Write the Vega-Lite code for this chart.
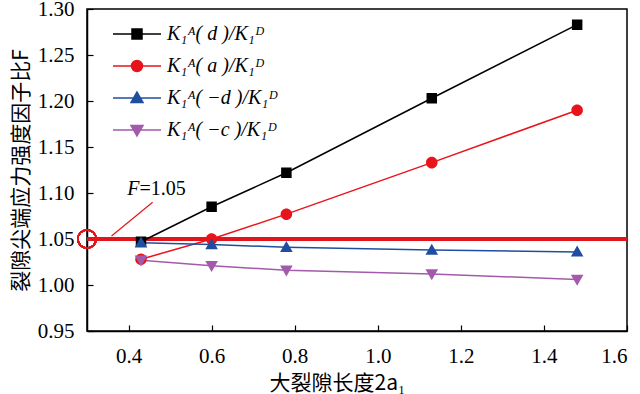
{
  "$schema": "https://vega.github.io/schema/vega-lite/v6.json",
  "autosize": "none",
  "width": 540,
  "height": 322,
  "padding": {"left": 87, "top": 9, "right": 13, "bottom": 63},
  "background": "white",
  "config": {
    "view": {"stroke": "black", "strokeWidth": 1.5},
    "axis": {
      "grid": false,
      "domainColor": "black",
      "domainWidth": 1.5,
      "tickColor": "black",
      "tickWidth": 1.2,
      "tickSize": -6,
      "labelFont": "Liberation Serif",
      "labelFontSize": 21,
      "labelColor": "black",
      "titleColor": "black",
      "titleFont": "Noto Sans CJK SC",
      "titleFontSize": 21,
      "titleFontWeight": "normal"
    },
    "legend": {
      "orient": "none", "legendX": 40, "legendY": 15, "title": null, "padding": 0,
      "labelFont": "Liberation Serif", "labelFontSize": 20, "labelFontStyle": "italic", "labelColor": "black",
      "symbolSize": 100, "labelOffset": 20, "rowPadding": 12, "symbolStrokeWidth": 1.5
    }
  },
  "data": {
    "values": [
      {"series": "d", "x": 0.43, "y": 1.047},
      {"series": "d", "x": 0.6, "y": 1.085},
      {"series": "d", "x": 0.78, "y": 1.122},
      {"series": "d", "x": 1.13, "y": 1.203},
      {"series": "d", "x": 1.48, "y": 1.283},
      {"series": "a", "x": 0.43, "y": 1.028},
      {"series": "a", "x": 0.6, "y": 1.050},
      {"series": "a", "x": 0.78, "y": 1.077},
      {"series": "a", "x": 1.13, "y": 1.133},
      {"series": "a", "x": 1.48, "y": 1.190},
      {"series": "-d", "x": 0.43, "y": 1.046},
      {"series": "-d", "x": 0.6, "y": 1.044},
      {"series": "-d", "x": 0.78, "y": 1.041},
      {"series": "-d", "x": 1.13, "y": 1.038},
      {"series": "-d", "x": 1.48, "y": 1.036},
      {"series": "-c", "x": 0.43, "y": 1.027},
      {"series": "-c", "x": 0.6, "y": 1.021},
      {"series": "-c", "x": 0.78, "y": 1.016},
      {"series": "-c", "x": 1.13, "y": 1.012},
      {"series": "-c", "x": 1.48, "y": 1.006}
    ]
  },
  "layer": [
    {
      "mark": {"type": "rule", "color": "#e3151c", "strokeWidth": 2.5},
      "encoding": {"y": {"datum": 1.05, "type": "quantitative"}}
    },
    {
      "mark": {"type": "line", "strokeWidth": 1.5},
      "encoding": {
        "x": {
          "field": "x", "type": "quantitative",
          "scale": {"domain": [0.3, 1.6], "nice": false, "zero": false},
          "axis": {"values": [0.4, 0.6, 0.8, 1.0, 1.2, 1.4, 1.6], "format": ".1f", "labelPadding": 20, "title": "大裂隙长度2a₁", "titlePadding": 6, "titleX": 250, "titleAlign": "center"}
        },
        "y": {
          "field": "y", "type": "quantitative",
          "scale": {"domain": [0.95, 1.3], "nice": false, "zero": false},
          "axis": {"values": [0.95, 1.0, 1.05, 1.1, 1.15, 1.2, 1.25, 1.3], "format": ".2f", "labelPadding": 19, "title": "裂隙尖端应力强度因子比F", "titlePadding": 6}
        },
        "stroke": {
          "field": "series", "type": "nominal",
          "scale": {"domain": ["d", "a", "-d", "-c"], "range": ["#000000", "#e8141b", "#1f4ea1", "#a35aab"]},
          "legend": {
            "labelExpr": "datum.value==='d' ? 'K₁ᴬ( d )/K₁ᴰ' : datum.value==='a' ? 'K₁ᴬ( a )/K₁ᴰ' : datum.value==='-d' ? 'K₁ᴬ( −d )/K₁ᴰ' : 'K₁ᴬ( −c )/K₁ᴰ'"
          }
        }
      }
    },
    {
      "mark": {"type": "point", "opacity": 1, "fillOpacity": 1, "size": 110, "strokeWidth": 0},
      "encoding": {
        "x": {"field": "x", "type": "quantitative"},
        "y": {"field": "y", "type": "quantitative"},
        "fill": {
          "field": "series", "type": "nominal",
          "scale": {"domain": ["d", "a", "-d", "-c"], "range": ["#000000", "#e8141b", "#1f4ea1", "#a35aab"]},
          "legend": {
            "labelExpr": "datum.value==='d' ? 'K₁ᴬ( d )/K₁ᴰ' : datum.value==='a' ? 'K₁ᴬ( a )/K₁ᴰ' : datum.value==='-d' ? 'K₁ᴬ( −d )/K₁ᴰ' : 'K₁ᴬ( −c )/K₁ᴰ'"
          }
        },
        "stroke": {
          "field": "series", "type": "nominal"
        },
        "shape": {
          "field": "series", "type": "nominal",
          "scale": {"domain": ["d", "a", "-d", "-c"], "range": ["M-4.8,0H4.8M-1,-1H1V1H-1Z", "M-4.8,0H4.8M1.1,0A1.1,1.1,0,1,1,-1.1,0A1.1,1.1,0,1,1,1.1,0Z", "M-4.8,0H4.8M0,-1.2L1.2,0.9H-1.2Z", "M-4.8,0H4.8M0,1.2L1.2,-0.9H-1.2Z"]}
        }
      }
    },
    {
      "mark": {"type": "point", "filled": false, "color": "#e3151c", "size": 330, "strokeWidth": 1.5, "opacity": 1},
      "encoding": {
        "x": {"datum": 0.3, "type": "quantitative"},
        "y": {"datum": 1.05, "type": "quantitative"}
      }
    },
    {
      "data": {"values": [{"x1": 0.359, "y1": 1.0533, "x2": 0.458, "y2": 1.09}]},
      "mark": {"type": "rule", "color": "#e3151c", "strokeWidth": 1.2},
      "encoding": {
        "x": {"field": "x1", "type": "quantitative"},
        "y": {"field": "y1", "type": "quantitative"},
        "x2": {"field": "x2"},
        "y2": {"field": "y2"}
      }
    },
    {
      "data": {"values": [{"x": 0.4265, "y": 1.0978, "t": "F"}]},
      "mark": {"type": "text", "align": "right", "baseline": "alphabetic", "font": "Liberation Serif", "fontSize": 20, "fontStyle": "italic", "color": "black"},
      "encoding": {
        "x": {"field": "x", "type": "quantitative"},
        "y": {"field": "y", "type": "quantitative"},
        "text": {"field": "t"}
      }
    },
    {
      "data": {"values": [{"x": 0.4265, "y": 1.0978, "t": "=1.05"}]},
      "mark": {"type": "text", "align": "left", "baseline": "alphabetic", "font": "Liberation Serif", "fontSize": 20, "color": "black"},
      "encoding": {
        "x": {"field": "x", "type": "quantitative"},
        "y": {"field": "y", "type": "quantitative"},
        "text": {"field": "t"}
      }
    }
  ]
}
